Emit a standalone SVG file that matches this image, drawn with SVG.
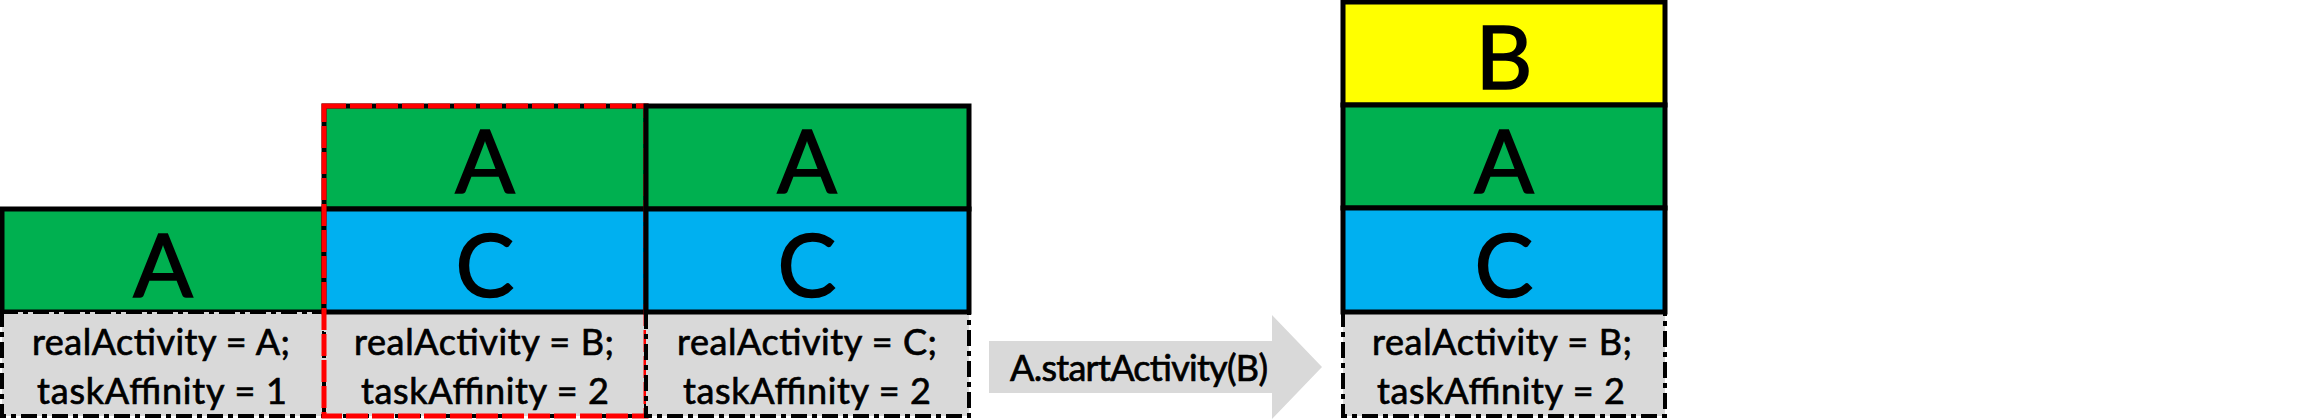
<svg xmlns="http://www.w3.org/2000/svg" width="2312" height="419" viewBox="0 0 2312 419">
<style>
  .box { stroke: #000; stroke-width: 5; }
  .green { fill: #00B050; }
  .blue { fill: #00B0F0; }
  .yellow { fill: #FFFF00; }
  .info { fill: #D9D9D9; stroke: #000; stroke-width: 4; stroke-dasharray: 16 5 5 5; }
  .big { font-family: Lato, "Liberation Sans", sans-serif; font-size: 88px; fill: #000; stroke: #000; stroke-width: 1.6; text-anchor: middle; }
  .small { font-family: Lato, "Liberation Sans", sans-serif; font-size: 36px; fill: #000; stroke: #000; stroke-width: 0.7; text-anchor: middle; }
  .sel { fill: none; stroke: #FF0000; stroke-width: 5; stroke-dasharray: 22 4; }
</style>
<rect width="2312" height="419" fill="#FFFFFF"/>

<g id="task1">
  <rect class="box green" x="2" y="209" width="322" height="103"/>
  <text class="big" x="163" y="297">A</text>
  <rect class="info" x="2" y="312" width="322" height="104"/>
  <text class="small" x="161" y="355" textLength="258">realActivity = A;</text>
  <text class="small" x="162" y="404" textLength="250">taskAffinity = 1</text>
</g>

<g id="task2">
  <rect class="info" x="324" y="312" width="322" height="104"/>
  <text class="small" x="484" y="355" textLength="260">realActivity = B;</text>
  <text class="small" x="485" y="404" textLength="248">taskAffinity = 2</text>
  <rect class="box green" x="324" y="106" width="322" height="103"/>
  <text class="big" x="485" y="193">A</text>
  <rect class="box blue" x="324" y="209" width="322" height="103"/>
  <text class="big" x="485" y="297">C</text>
  <rect class="sel" x="324" y="106" width="322" height="310"/>
</g>

<g id="task3">
  <rect class="info" x="646" y="312" width="323" height="104"/>
  <text class="small" x="807" y="355" textLength="260">realActivity = C;</text>
  <text class="small" x="807" y="404" textLength="248">taskAffinity = 2</text>
  <rect class="box green" x="646" y="106" width="323" height="103"/>
  <text class="big" x="807" y="193">A</text>
  <rect class="box blue" x="646" y="209" width="323" height="103"/>
  <text class="big" x="807" y="297">C</text>
</g>

<g id="connectors">
  <polygon points="989,341 1272,341 1272,315 1322,367 1272,419 1272,393 989,393" fill="#D9D9D9"/>
  <text class="small" x="1139" y="381" textLength="258">A.startActivity(B)</text>
</g>

<g id="task-result">
  <rect class="info" x="1343" y="312" width="322" height="104"/>
  <text class="small" x="1502" y="355" textLength="260">realActivity = B;</text>
  <text class="small" x="1501" y="404" textLength="248">taskAffinity = 2</text>
  <rect class="box yellow" x="1343" y="2" width="322" height="103"/>
  <text class="big" x="1504" y="89">B</text>
  <rect class="box green" x="1343" y="105" width="322" height="103"/>
  <text class="big" x="1504" y="193">A</text>
  <rect class="box blue" x="1343" y="208" width="322" height="104"/>
  <text class="big" x="1504" y="297">C</text>
</g>
</svg>
